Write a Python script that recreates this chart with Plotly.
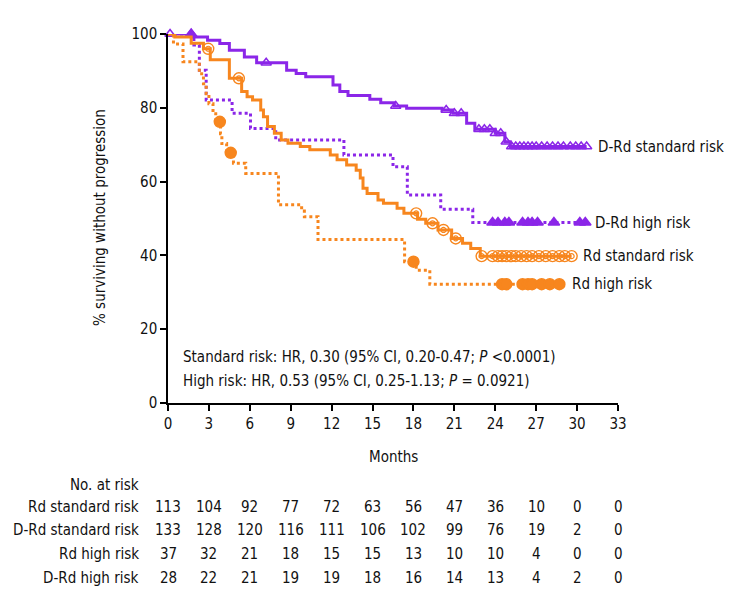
import plotly.graph_objects as go

# ---------------- data ----------------
months_ticks = [0, 3, 6, 9, 12, 15, 18, 21, 24, 27, 30, 33]
y_ticks = [0, 20, 40, 60, 80, 100]

drd_std_t = [0, 1.8, 2.9, 3.8, 4.5, 5.6, 6.5, 8.7, 9.4, 10.1, 12.1, 12.6, 13.2, 14.8, 15.6, 16.6, 17.5, 20.1, 20.9, 21.9, 22.5, 24.0, 24.7, 25.1]
drd_std_s = [100, 99.2, 98.3, 97.4, 95.6, 93.8, 92.2, 90.2, 89.3, 88.4, 86.2, 84.4, 83.3, 82.3, 81.4, 80.5, 79.9, 79.4, 78.5, 75.8, 74.2, 73.1, 70.8, 69.5]
drd_std_end = 30.7
drd_std_cens = [0.15, 1.7, 7.2, 16.7, 20.4, 21.0, 21.5, 22.8, 23.2, 23.6, 24.0, 24.4, 24.8, 25.2, 25.5, 25.8, 26.1, 26.4, 26.7, 27.0, 27.4, 27.8, 28.2, 28.6, 29.0, 29.5, 29.9, 30.3, 30.7]

drd_hi_t = [0, 1.9, 2.3, 2.8, 4.7, 6.05, 7.9, 12.9, 16.5, 17.55, 20.0, 22.35]
drd_hi_s = [100, 97.0, 90.2, 82.1, 78.5, 74.4, 71.3, 67.2, 64.0, 56.4, 52.5, 48.9]
drd_hi_end = 30.7
drd_hi_cens = [1.7, 23.8, 24.2, 24.7, 25.0, 26.0, 26.4, 26.7, 27.1, 28.3, 30.2, 30.6]

rd_std_t = [0, 0.5, 1.7, 2.6, 3.1, 4.5, 5.4, 5.8, 6.2, 6.8, 7.0, 7.3, 7.8, 8.3, 8.8, 9.7, 10.4, 11.9, 12.4, 13.1, 13.8, 14.1, 14.3, 14.6, 15.4, 15.8, 16.8, 17.3, 18.3, 18.9, 19.8, 20.8, 21.6, 22.2, 22.9]
rd_std_s = [100, 99.2, 97.5, 96.0, 93.0, 88.0, 84.4, 83.0, 82.1, 79.4, 77.6, 74.9, 73.1, 71.3, 70.4, 69.5, 68.6, 67.2, 65.9, 64.5, 63.1, 61.0, 58.2, 56.8, 55.0, 54.1, 52.8, 51.4, 49.8, 48.7, 46.9, 44.6, 43.3, 41.9, 39.8]
rd_std_end = 29.6
rd_std_cens = [2.95, 5.2, 18.2, 19.4, 20.2, 21.1, 23.0, 23.8, 24.2, 24.5, 24.8, 25.2, 25.5, 25.9, 26.3, 26.7, 27.2, 27.7, 28.2, 28.7, 29.1, 29.6]

rd_hi_t = [0, 0.4, 1.1, 2.3, 2.6, 2.8, 3.0, 3.3, 3.5, 3.85, 3.95, 4.3, 4.8, 5.7, 8.1, 9.8, 10.0, 11.0, 17.35, 18.2, 19.2]
rd_hi_s = [100, 97.3, 92.5, 89.2, 86.5, 83.8, 81.1, 78.4, 76.2, 73.0, 70.3, 67.8, 65.0, 62.2, 53.7, 52.0, 50.5, 44.3, 38.3, 36.0, 32.2]
rd_hi_end = 28.7
rd_hi_cens = [3.8, 4.6, 18.0, 24.5, 24.8, 26.0, 26.4, 26.7, 27.4, 28.0, 28.7]

risk_labels = ["Rd standard risk", "D-Rd standard risk", "Rd high risk", "D-Rd high risk"]
risk_rd_std = [113, 104, 92, 77, 72, 63, 56, 47, 36, 10, 0, 0]
risk_drd_std = [133, 128, 120, 116, 111, 106, 102, 99, 76, 19, 2, 0]
risk_rd_hi = [37, 32, 21, 18, 15, 15, 13, 10, 10, 4, 0, 0]
risk_drd_hi = [28, 22, 21, 19, 19, 18, 16, 14, 13, 4, 2, 0]

curve_labels = ["D-Rd standard risk", "D-Rd high risk", "Rd standard risk", "Rd high risk"]

# ---------------- style ----------------
PURPLE = "#8B26E8"
ORANGE = "#F7861E"
FONT = "Liberation Sans Narrow, Arial Narrow, DejaVu Sans Condensed, sans-serif"
FS = 15

W, H = 735, 601
ML, MR, MT, MB = 168, 117, 34, 198
PH = H - MT - MB  # plot height in px


def step_xy(t, s, end):
    return list(t) + [end], list(s) + [s[-1]]


def step_at(t, s, x):
    v = s[0]
    for ti, si in zip(t, s):
        if ti <= x:
            v = si
    return v


fig = go.Figure()


def add_curve(t, s, end, cens, color, dash, symbol, msize, mline=1.5, extra=None):
    x, y = step_xy(t, s, end)
    fig.add_trace(go.Scatter(x=x, y=y, mode="lines", line=dict(color=color, width=3, dash=dash, shape="hv"),
                             hoverinfo="skip", showlegend=False, cliponaxis=False))
    cy = [step_at(t, s, c) for c in cens]
    fig.add_trace(go.Scatter(x=cens, y=cy, mode="markers",
                             marker=dict(symbol=symbol, size=msize, color=color, line=dict(color=color, width=mline)),
                             hoverinfo="skip", showlegend=False, cliponaxis=False))
    if extra:
        fig.add_trace(go.Scatter(x=cens, y=cy, mode="markers",
                                 marker=dict(symbol=extra[0], size=extra[1], color=color, line=dict(color=color, width=1.2)),
                                 hoverinfo="skip", showlegend=False, cliponaxis=False))


add_curve(drd_std_t, drd_std_s, drd_std_end, drd_std_cens, PURPLE, "solid", "triangle-up-open", 9)
add_curve(drd_hi_t, drd_hi_s, drd_hi_end, drd_hi_cens, PURPLE, "3px,3px", "triangle-up", 10)
add_curve(rd_std_t, rd_std_s, rd_std_end, rd_std_cens, ORANGE, "solid", "circle-open", 11, 1.4, extra=("circle-open", 5))
add_curve(rd_hi_t, rd_hi_s, rd_hi_end, rd_hi_cens, ORANGE, "3px,3px", "circle", 11)

# ---------------- annotations ----------------
ann = []
label_pos = [(31.4, drd_std_s[-1]), (31.2, drd_hi_s[-1]), (30.3, rd_std_s[-1]), (29.5, rd_hi_s[-1])]
for lab, (lx, ly) in zip(curve_labels, label_pos):
    ann.append(dict(x=lx, y=ly, xref="x", yref="y", text=lab, showarrow=False, xanchor="left", yanchor="middle",
                    font=dict(family=FONT, size=FS, color="#111")))


def py(ypx):
    return (H - MB - ypx) / PH


def px_x(xpx):
    return (xpx - ML) / (W - ML - MR)


ann.append(dict(x=px_x(181), y=py(357), xref="paper", yref="paper", xanchor="left", yanchor="middle", showarrow=False,
                text="Standard risk: HR, 0.30 (95% CI, 0.20-0.47; <i>P</i> <0.0001)", font=dict(family=FONT, size=15, color="#111")))
ann.append(dict(x=px_x(181), y=py(381), xref="paper", yref="paper", xanchor="left", yanchor="middle", showarrow=False,
                text="High risk: HR, 0.53 (95% CI, 0.25-1.13; <i>P</i> = 0.0921)", font=dict(family=FONT, size=15, color="#111")))

ann.append(dict(x=px_x(100), y=py(218), xref="paper", yref="paper", xanchor="center", yanchor="middle", showarrow=False,
                textangle=-90, text="% surviving without progression", font=dict(family=FONT, size=FS, color="#111")))
ann.append(dict(x=0.5, y=py(457), xref="paper", yref="paper", xanchor="center", yanchor="middle", showarrow=False,
                text="Months", font=dict(family=FONT, size=FS, color="#111")))
ann.append(dict(x=px_x(141), y=py(485), xref="paper", yref="paper", xanchor="right", yanchor="middle", showarrow=False,
                text="No. at risk", font=dict(family=FONT, size=FS, color="#111")))

rows = [risk_rd_std, risk_drd_std, risk_rd_hi, risk_drd_hi]
row_y = [507, 530, 554, 578]
for lab, vals, ry in zip(risk_labels, rows, row_y):
    ann.append(dict(x=px_x(141), y=py(ry), xref="paper", yref="paper", xanchor="right", yanchor="middle", showarrow=False,
                    text=lab, font=dict(family=FONT, size=FS, color="#111")))
    for m, v in zip(months_ticks, vals):
        ann.append(dict(x=m, y=py(ry), xref="x", yref="paper", xanchor="center", yanchor="middle", showarrow=False,
                        text=str(v), font=dict(family=FONT, size=FS, color="#111")))

fig.update_layout(
    width=W, height=H,
    margin=dict(l=ML, r=MR, t=MT, b=MB),
    paper_bgcolor="white", plot_bgcolor="white",
    showlegend=False,
    annotations=ann,
    font=dict(family=FONT, size=FS, color="#111"),
    xaxis=dict(range=[0, 33], tickvals=months_ticks, ticktext=[str(m) for m in months_ticks],
               showline=True, linecolor="black", linewidth=1.5, ticks="outside", ticklen=6, tickwidth=1.5,
               tickcolor="black", showgrid=False, zeroline=False, tickfont=dict(family=FONT, size=FS, color="#111")),
    yaxis=dict(range=[0, 100], tickvals=y_ticks, ticktext=[str(v) for v in y_ticks],
               showline=True, linecolor="black", linewidth=1.5, ticks="outside", ticklen=6, tickwidth=1.5,
               tickcolor="black", showgrid=False, zeroline=False, tickfont=dict(family=FONT, size=FS, color="#111")),
)

fig.write_html("out.html", config={"displayModeBar": False},
               post_script="document.body.style.margin='0px';document.body.style.overflow='hidden';")
